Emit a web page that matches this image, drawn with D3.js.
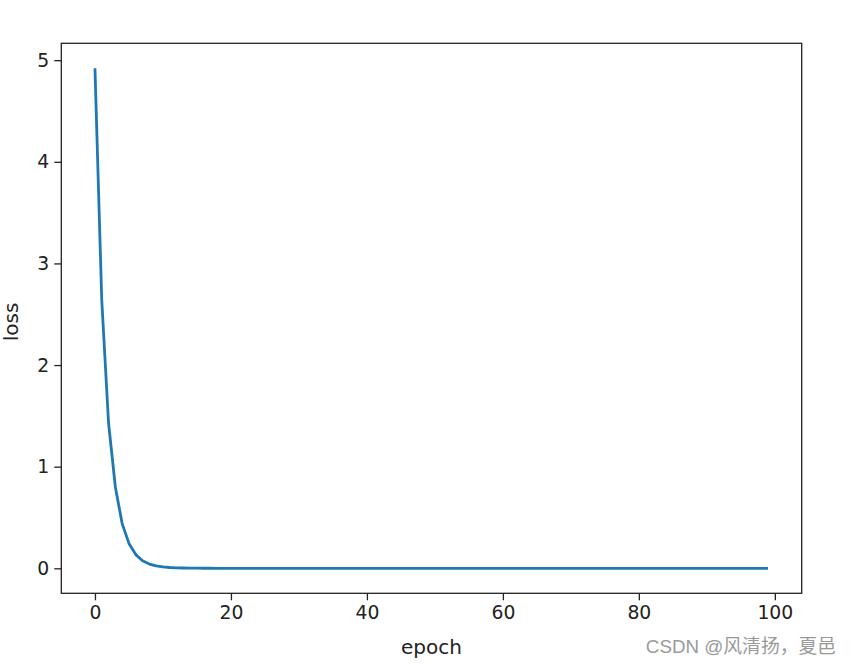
<!DOCTYPE html>
<html>
<head>
<meta charset="utf-8">
<script src="https://cdn.jsdelivr.net/npm/d3@7"></script>
<style>
  html, body { margin: 0; padding: 0; background: #fff; }
  svg { display: block; }
  text { font-family: "DejaVu Sans", sans-serif; fill: #222; }
</style>
</head>
<body>
<svg id="chart" width="852" height="666"></svg>
<script>
// ---- data ----
const lossHead = [4.92, 2.64, 1.43, 0.80, 0.44, 0.245, 0.135, 0.075, 0.042, 0.024,
                  0.014, 0.008, 0.005, 0.003, 0.002, 0.0012, 0.0008, 0.0005, 0.0003, 0.0002];
const lossTail = [0.0001, 0.0001, 0.0001, 0.0001, 0.0001, 0.0001, 0.0001, 0.0001, 0.0001, 0.0001,
                  0.0001, 0.0001, 0.0001, 0.0001, 0.0001, 0.0001, 0.0001, 0.0001, 0.0001, 0.0001,
                  0.0001, 0.0001, 0.0001, 0.0001, 0.0001, 0.0001, 0.0001, 0.0001, 0.0001, 0.0001,
                  0.0001, 0.0001, 0.0001, 0.0001, 0.0001, 0.0001, 0.0001, 0.0001, 0.0001, 0.0001,
                  0.0001, 0.0001, 0.0001, 0.0001, 0.0001, 0.0001, 0.0001, 0.0001, 0.0001, 0.0001,
                  0.0001, 0.0001, 0.0001, 0.0001, 0.0001, 0.0001, 0.0001, 0.0001, 0.0001, 0.0001,
                  0.0001, 0.0001, 0.0001, 0.0001, 0.0001, 0.0001, 0.0001, 0.0001, 0.0001, 0.0001,
                  0.0001, 0.0001, 0.0001, 0.0001, 0.0001, 0.0001, 0.0001, 0.0001, 0.0001, 0.0001];
const loss = lossHead.concat(lossTail);
const epochs = loss.map((d, i) => i);
const xTicks = [0, 20, 40, 60, 80, 100];
const yTicks = [0, 1, 2, 3, 4, 5];
const xLabel = "epoch";
const yLabel = "loss";
const watermark = "CSDN @风清扬，夏邑";

// ---- layout ----
const L = 61.3, R = 801.7, T = 43.3, B = 593.3;
const svg = d3.select("#chart");

const xMin = 0, xMax = epochs.length - 1;
const xPad = (xMax - xMin) * 0.05;
const yMax = d3.max(loss), yMin = d3.min(loss);
const yPad = (yMax - yMin) * 0.05;

const x = d3.scaleLinear().domain([xMin - xPad, xMax + xPad]).range([L, R]);
const y = d3.scaleLinear().domain([yMin - yPad, yMax + yPad]).range([B, T]);

const fs = 18.8;
const lfs = 20;

// axes
const xAxis = svg.append("g").attr("transform", `translate(0,${B})`)
  .call(d3.axisBottom(x).tickValues(xTicks).tickFormat(d3.format("d")).tickSize(7).tickPadding(5));
const yAxis = svg.append("g").attr("transform", `translate(${L},0)`)
  .call(d3.axisLeft(y).tickValues(yTicks).tickFormat(d3.format("d")).tickSize(7).tickPadding(5));
[xAxis, yAxis].forEach(g => {
  g.select(".domain").remove();
  g.selectAll(".tick line").attr("stroke", "#222").attr("stroke-width", 1.3);
  g.selectAll(".tick text").attr("font-size", fs).attr("font-family", "DejaVu Sans").attr("fill", "#222");
});

// line
const line = d3.line().x((d, i) => x(epochs[i])).y(d => y(d));
svg.append("path").datum(loss)
  .attr("d", line)
  .attr("fill", "none")
  .attr("stroke", "#1f77b4")
  .attr("stroke-width", 2.8)
  .attr("stroke-linejoin", "round")
  .attr("stroke-linecap", "butt");

// frame
svg.append("rect").attr("x", L).attr("y", T).attr("width", R - L).attr("height", B - T)
  .attr("fill", "none").attr("stroke", "#222").attr("stroke-width", 1.3);

// axis labels
svg.append("text").attr("x", (L + R) / 2).attr("y", 654)
  .attr("text-anchor", "middle").attr("font-size", lfs).text(xLabel);
svg.append("text").attr("transform", `translate(18,322) rotate(-90)`)
  .attr("text-anchor", "middle").attr("font-size", lfs).text(yLabel);

// watermark
svg.append("text").attr("x", 836).attr("y", 653)
  .attr("text-anchor", "end")
  .style("font-family", "'Liberation Sans', 'Noto Sans CJK SC', sans-serif")
  .style("fill", "#9a9a9a")
  .attr("font-size", 18.8).text(watermark);
</script>
</body>
</html>
